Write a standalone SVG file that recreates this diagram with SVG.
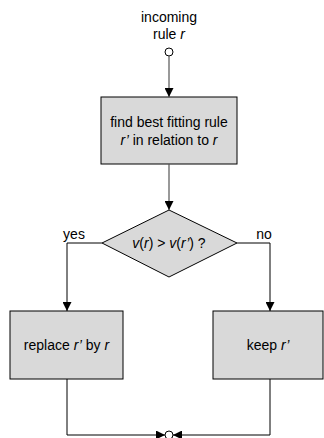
<svg xmlns="http://www.w3.org/2000/svg" width="324" height="438" viewBox="0 0 324 438">
<style>
text{font-family:"Liberation Sans",Arial,sans-serif;font-size:14px;fill:#000}
.i{font-style:italic}
.box{fill:#d9d9d9;stroke:#000;stroke-width:1}
.c{fill:none;stroke:#000;stroke-width:1}
.g{fill:none;stroke:#555;stroke-width:1.2}
.dot{fill:#fff;stroke:#000;stroke-width:1}
</style>
<defs>
<marker id="ah" viewBox="0 0 10 10" refX="10" refY="5" markerWidth="9" markerHeight="9" markerUnits="userSpaceOnUse" orient="auto">
<path d="M0,0 L10,5 L0,10 z" fill="#000"/>
</marker>
</defs>
<g id="start">
<text x="169" y="22" text-anchor="middle">incoming</text>
<text x="169" y="39" text-anchor="middle">rule <tspan class="i">r</tspan></text>
<circle class="dot" cx="169" cy="52" r="4"/>
</g>
<g id="find">
<rect class="box" x="101" y="97" width="136" height="67"/>
<text x="169" y="127" text-anchor="middle">find best fitting rule</text>
<text x="169" y="145" text-anchor="middle"><tspan class="i">r’</tspan> in relation to <tspan class="i">r</tspan></text>
</g>
<g id="decision">
<polygon class="box" points="169,210 237,243 169,277 102,243"/>
<text x="169" y="248" text-anchor="middle"><tspan class="i">v</tspan>(<tspan class="i">r</tspan>) &gt; <tspan class="i">v</tspan>(<tspan class="i">r’</tspan>) ?</text>
</g>
<g id="replace">
<rect class="box" x="10" y="311" width="113" height="68"/>
<text x="66.5" y="350" text-anchor="middle">replace <tspan class="i">r’</tspan> by <tspan class="i">r</tspan></text>
</g>
<g id="keep">
<rect class="box" x="213" y="311" width="110" height="68"/>
<text x="268" y="350" text-anchor="middle">keep <tspan class="i">r’</tspan></text>
</g>
<g id="end">
<circle class="dot" cx="169" cy="435" r="4"/>
</g>
<g id="connectors">
<line class="g" x1="169" y1="56" x2="169" y2="97" marker-end="url(#ah)"/>
<line class="g" x1="169" y1="164" x2="169" y2="210" marker-end="url(#ah)"/>
<polyline class="c" points="102,243 67,243 67,311" marker-end="url(#ah)"/>
<polyline class="c" points="237,243 270,243 270,311" marker-end="url(#ah)"/>
<polyline class="c" points="67,379 67,435 165,435" marker-end="url(#ah)"/>
<polyline class="c" points="270,379 270,435 173,435" marker-end="url(#ah)"/>
<text x="74" y="239" text-anchor="middle">yes</text>
<text x="264" y="239" text-anchor="middle">no</text>
</g>
</svg>
